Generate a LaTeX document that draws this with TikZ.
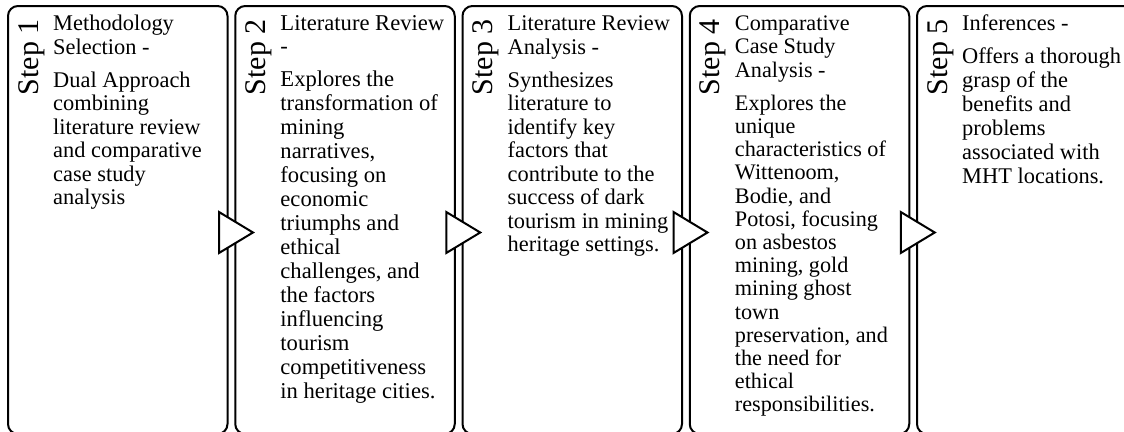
\documentclass[tikz,border=0pt]{standalone}
\usepackage{fontspec}
\setmainfont{Liberation Serif}
\begin{document}
\begin{tikzpicture}[x=1pt,y=-1pt,
  stepbox/.style={draw=black, line width=2pt, rounded corners=10pt, minimum width=219.5pt, minimum height=428pt, inner sep=0pt, fill=white},
  steplabel/.style={rotate=90, anchor=base east, inner sep=0pt, font=\fontsize{30}{30}\selectfont},
  steptext/.style={anchor=north west, align=left, inner sep=0pt, font=\fontsize{22.4}{23.5}\selectfont},
  arrowtri/.style={draw=black, fill=white, line width=2pt, line join=miter}]
\useasboundingbox (0,0) rectangle (1124,431);
% boxes
\node[stepbox] (b1) at (117.75,220) {};
\node[stepbox] (b2) at (345.00,220) {};
\node[stepbox] (b3) at (572.25,220) {};
\node[stepbox] (b4) at (799.50,220) {};
\node[stepbox] (b5) at (1026.75,220) {};
% step labels
\node[steplabel] (s1) at (38,19) {Step 1};
\node[steplabel] (s2) at (265.25,19) {Step 2};
\node[steplabel] (s3) at (492.5,19) {Step 3};
\node[steplabel] (s4) at (719.75,19) {Step 4};
\node[steplabel] (s5) at (947,19) {Step 5};
% texts (first baseline at y = 30.5; strut height = 0.7 x baselineskip)
\node[steptext] (t1) at (53,14.05) {\strut Methodology\\Selection -\\[9.5pt]Dual Approach\\combining\\literature review\\and comparative\\case study\\analysis};
\node[steptext, font=\fontsize{22.6}{24}\selectfont] (t2) at (280.25,13.7) {\strut Literature Review\\[-1pt]-\\[8.5pt]Explores the\\transformation of\\mining\\narratives,\\focusing on\\economic\\triumphs and\\ethical\\challenges, and\\the factors\\influencing\\tourism\\competitiveness\\in heritage cities.};
\node[steptext] (t3) at (507.5,14.05) {\strut Literature Review\\Analysis -\\[9.5pt]Synthesizes\\literature to\\identify key\\factors that\\contribute to the\\success of dark\\tourism in mining\\heritage settings.};
\node[steptext, font=\fontsize{22.2}{23.2}\selectfont] (t4) at (734.75,14.26) {\strut Comparative\\Case Study\\Analysis -\\[10pt]Explores the\\unique\\characteristics of\\Wittenoom,\\Bodie, and\\Potosi, focusing\\on asbestos\\mining, gold\\mining ghost\\town\\preservation, and\\the need for\\ethical\\responsibilities.};
\node[steptext, font=\fontsize{22.4}{24}\selectfont] (t5) at (962,13.7) {\strut Inferences -\\[8.8pt]Offers a thorough\\grasp of the\\benefits and\\problems\\associated with\\MHT locations.};
% arrows
\draw[arrowtri] (219,212) -- (253,232.5) -- (219,253) -- cycle;
\draw[arrowtri] (446.25,212) -- (480.25,232.5) -- (446.25,253) -- cycle;
\draw[arrowtri] (673.5,212) -- (707.5,232.5) -- (673.5,253) -- cycle;
\draw[arrowtri] (900.75,212) -- (934.75,232.5) -- (900.75,253) -- cycle;
\end{tikzpicture}
\end{document}
